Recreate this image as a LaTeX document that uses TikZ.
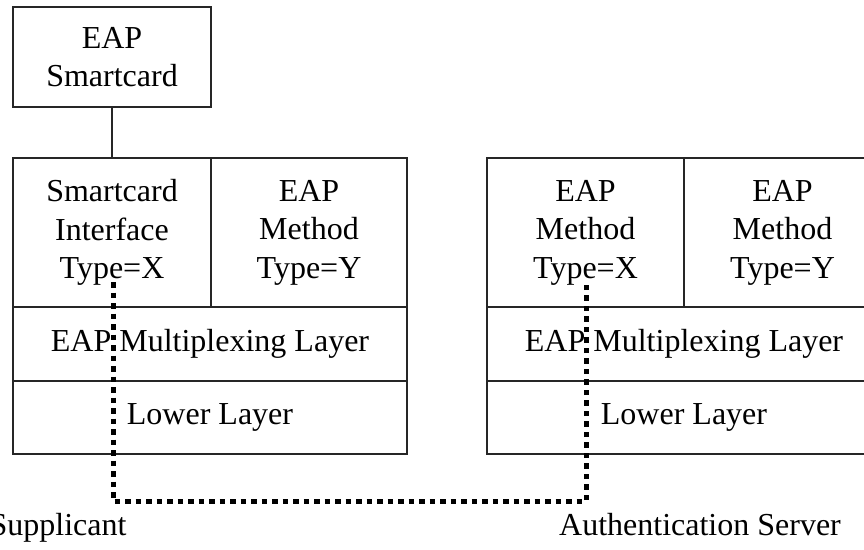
\documentclass[tikz,border=0pt]{standalone}
\usepackage{fontspec}
\setmainfont{Liberation Serif}
\begin{document}
\begin{tikzpicture}[x=1pt,y=-1pt,
  cell/.style={draw=black!85, line width=2pt, inner sep=0pt, align=center,
    font=\fontsize{32}{38.5}\selectfont},
  lbl/.style={anchor=base, inner sep=0pt, font=\fontsize{32}{38.5}\selectfont},
  link/.style={draw=black!85, line width=2pt},
  path/.style={draw=black, line width=5pt, dash pattern=on 5.5pt off 5pt}]
\useasboundingbox (0,0) rectangle (864,549);
\clip (0,0) rectangle (864,549);

% smartcard
\node[cell, minimum width=198pt, minimum height=100pt] (sc) at (112,57) {EAP\\Smartcard};

% supplicant stack
\node[cell, minimum width=198pt, minimum height=149pt] (sif) at (112,232.5) {Smartcard\\Interface\\Type=X};
\node[cell, minimum width=196pt, minimum height=149pt] (sm) at (309,232.5) {EAP\\Method\\Type=Y};
\node[cell, minimum width=394pt, minimum height=74pt] (smux) at (210,344) {EAP Multiplexing Layer};
\node[cell, minimum width=394pt, minimum height=73pt] (slow) at (210,417.5) {Lower Layer};

% authentication server stack
\node[cell, minimum width=197pt, minimum height=149pt] (ax) at (585.5,232.5) {EAP\\Method\\Type=X};
\node[cell, minimum width=197pt, minimum height=149pt] (ay) at (782.5,232.5) {EAP\\Method\\Type=Y};
\node[cell, minimum width=394pt, minimum height=74pt] (amux) at (684,344) {EAP Multiplexing Layer};
\node[cell, minimum width=394pt, minimum height=73pt] (alow) at (684,417.5) {Lower Layer};

% captions
\node[lbl] (sup) at (58,535) {Supplicant};
\node[lbl] (as) at (700,535) {Authentication Server};

% smartcard link
\draw[link] (sc.south) -- (sc.south |- sif.north);

% conversation path between Type=X peers
\coordinate (p1) at (113,282);
\coordinate (p2) at (586,282);
\coordinate (c1) at (113,501);
\coordinate (c2) at (586,501);
\draw[path] (p1) -- (c1) -- (c2) -- (p2);
\end{tikzpicture}
\end{document}
